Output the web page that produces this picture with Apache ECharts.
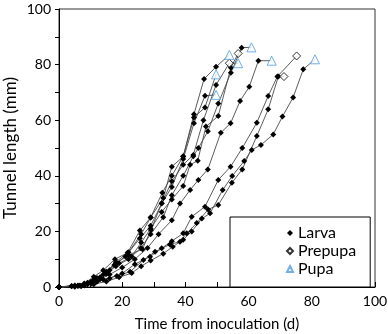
<!DOCTYPE html>
<html>
<head>
<meta charset="utf-8">
<script src="https://cdn.jsdelivr.net/npm/echarts@6/dist/echarts.min.js"></script>
<style>
  html, body { margin: 0; padding: 0; background: #fff; }
  #main { width: 388px; height: 334px; }
</style>
</head>
<body>
<div id="main"></div>
<script>
// tunnel length (mm) against days from inoculation, one array per larva
var larva1 = [[0,0],[4,0.3],[8,1],[11,2.6],[14,4.5],[17.5,7.9],[21,11],[25.6,17.5],[29,22],[32.5,30],[35.7,36],[39.3,46],[42.7,58.9],[46.2,68.8]];
var larva2 = [[0,0],[5,0.5],[9,1.5],[12,3.2],[15,5.5],[18,9],[22,12.5],[26,19],[29,25],[32.7,33.9],[35.7,40],[39.3,47],[42.7,61],[46.2,64.6]];
var larva3 = [[0,0],[4,0.4],[8,1.3],[11,3.7],[14,6],[17.7,10],[21.7,12.3],[25.6,20.3],[29,25],[33,32],[35.7,43.3],[39.3,46.9],[42.7,62.1],[45.9,74.8],[49.7,79.2]];
var larva4 = [[0,0],[5,0.4],[9,1.2],[12,3],[15,5],[18,8.5],[22,11.5],[26.4,13.6],[29.1,20.5],[32.5,30.1],[35.7,38],[39.3,44],[42.5,47.5],[45.7,60],[49.7,72.7]];
var larva5 = [[0,0],[6,0.5],[10,1.8],[13,3.5],[16,6],[19,8.5],[23,11],[26,16],[29,21],[32.5,27],[35.7,31.5],[39.3,36.3],[41.5,44],[43.9,45.4],[46.5,57.7],[50.4,61.5],[54.4,78.9]];
var larva6 = [[0,0],[5,0.3],[9,1],[12,2.8],[15,4.8],[18,7.5],[22,10],[25.9,14],[29,19],[33,25.1],[35.7,33],[39.3,40],[42.5,47],[44.1,50],[47.1,56],[50.4,66],[54.4,77.1],[57.8,86.1]];
var larva7 = [[0,0],[6,0.4],[10,1.5],[13,2.8],[16,4.5],[20,7],[24,10],[28,14],[31.5,19],[35.7,24],[38.3,30],[41.5,34.9],[44.1,38.5],[47.1,42.3],[51.2,55.5],[54.3,58.9],[57.3,66.9],[60.2,72],[63.1,81.4]];
var larva8 = [[0,0],[5,0.1],[8,0.5],[12,1.9],[16,3.1],[20,4.9],[24,8.2],[28.8,10.9],[32.5,13.9],[35.7,16.5],[39.3,19.3],[42,25.3],[46.2,28.9],[50.4,38.5],[54.3,43.3],[58,50],[62.6,59.1],[66.2,68.7],[69.1,75.7]];
var larva9 = [[0,0],[6.6,0.5],[10.3,1.3],[14,2.7],[18.3,4],[22.5,5.5],[26.7,9.7],[30.4,12.7],[35.1,15.3],[38.3,16.3],[40.4,19.3],[43.6,23],[47.2,27.9],[50.4,29.5],[54.7,37.5],[58,42.3],[62.6,54.3],[66.2,63.9],[69.4,75.7]];
var larva10 = [[0,0],[7,0.3],[11,1],[15,2],[19,3.5],[23,5],[26,7.5],[29,9.5],[33,12],[36,14.5],[39.3,17],[42,20],[45.2,24.6],[47.8,26.5],[51.8,34.9],[54.8,39.9],[58.6,45.3],[61,49.3],[63.9,51.1],[67.8,54.9],[70.7,61.3],[74.1,68.2],[77.3,78.3]];
var larvae = [larva1, larva2, larva3, larva4, larva5, larva6, larva7, larva8, larva9, larva10];

// stage points reached after the larval period
var prepupa = [[53.9,80.5],[56.7,84],[75.2,83.1],[71.2,75.7]];
var pupa = [[49.7,69.1],[49.7,76.5],[53.9,83.5],[56.7,80.5],[60.9,86.2],[67.3,81.4],[81,81.9]];
// which prepupa / pupa point belongs to each larva (-1 = none)
var prepupaOf = [-1,-1,-1,0,1,-1,-1,2,3,-1];
var pupaOf = [0,1,2,3,-1,4,5,-1,-1,6];

var xTicks = [0, 20, 40, 60, 80, 100];
var yTicks = [0, 20, 40, 60, 80, 100];

var chart = echarts.init(document.getElementById('main'));
var font = 'Lato';
var series = [];

larvae.forEach(function (pts, i) {
    var data = pts.slice();
    if (prepupaOf[i] >= 0) {
        data.push({ value: prepupa[prepupaOf[i]], symbol: 'none' });
    }
    if (pupaOf[i] >= 0) {
        data.push({ value: pupa[pupaOf[i]], symbol: 'none' });
    }
    series.push({
        name: 'Larva',
        type: 'line',
        data: data,
        symbol: 'diamond',
        symbolSize: 6,
        showAllSymbol: true,
        itemStyle: { color: '#000' },
        lineStyle: { color: '#4a4a4a', width: 0.9 },
        animation: false,
        z: 2
    });
});

series.push({
    name: 'Prepupa',
    type: 'scatter',
    data: prepupa,
    symbol: 'diamond',
    symbolSize: 8,
    itemStyle: { color: '#fff', borderColor: '#000', borderWidth: 1 },
    animation: false,
    z: 3
});
series.push({
    name: 'Pupa',
    type: 'scatter',
    data: pupa,
    symbol: 'triangle',
    symbolSize: 9,
    itemStyle: { color: '#fff', borderColor: '#4f9be0', borderWidth: 1 },
    animation: false,
    z: 4
});

chart.setOption({
    backgroundColor: '#fff',
    grid: {
        left: 59, right: 13, top: 9, bottom: 47,
        containLabel: false,
        outerBoundsMode: 'none',
        show: true, borderColor: '#333', borderWidth: 1
    },
    legend: {
        orient: 'vertical',
        left: 230, top: 217,
        padding: [7, 14, 9, 56],
        itemGap: 0,
        itemWidth: 6,
        itemHeight: 6,
        borderColor: '#000',
        borderWidth: 1,
        backgroundColor: '#fff',
        textStyle: { fontFamily: font, fontSize: 16, color: '#000', lineHeight: 18 },
        data: [
            { name: 'Larva', icon: 'diamond' },
            { name: 'Prepupa', icon: 'diamond' },
            { name: 'Pupa', icon: 'triangle' }
        ]
    },
    xAxis: {
        type: 'value',
        min: xTicks[0], max: xTicks[xTicks.length - 1], interval: 20,
        name: 'Time from inoculation (d)',
        nameLocation: 'middle',
        nameGap: 30,
        nameTextStyle: { fontFamily: font, fontSize: 15, color: '#000' },
        axisLine: { lineStyle: { color: '#000', width: 1 } },
        axisTick: { inside: true, length: 5, lineStyle: { color: '#000' } },
        minorTick: { show: true, splitNumber: 2, length: 5, lineStyle: { color: '#000' } },
        axisLabel: { fontFamily: font, fontSize: 14, color: '#000', margin: 7 },
        splitLine: { show: false }
    },
    yAxis: {
        type: 'value',
        min: yTicks[0], max: yTicks[yTicks.length - 1], interval: 20,
        name: 'Tunnel length (mm)',
        nameLocation: 'middle',
        nameGap: 40,
        nameMoveOverlap: false,
        nameTextStyle: { fontFamily: font, fontSize: 17, color: '#000' },
        axisLine: { lineStyle: { color: '#000', width: 1 } },
        axisTick: { inside: false, length: 4, lineStyle: { color: '#000' } },
        minorTick: { show: true, splitNumber: 2, length: 4, lineStyle: { color: '#000' } },
        axisLabel: { fontFamily: font, fontSize: 14, color: '#000', margin: 8 },
        splitLine: { show: false }
    },
    series: series
});
</script>
</body>
</html>
